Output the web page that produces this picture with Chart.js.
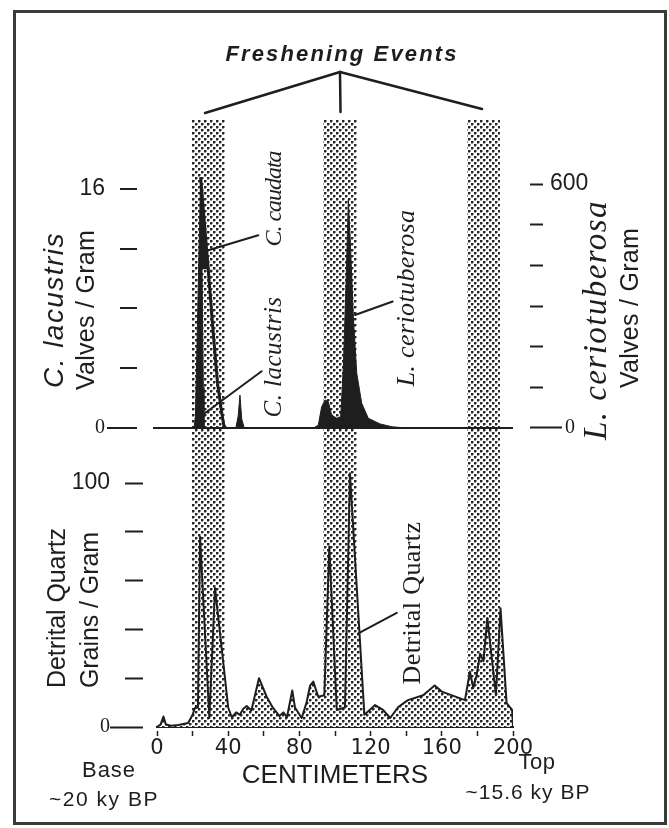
<!DOCTYPE html>
<html>
<head>
<meta charset="utf-8">
<title>Freshening Events</title>
<script src="https://cdn.jsdelivr.net/npm/chart.js@4.4.1/dist/chart.umd.min.js"></script>
<style>
  html, body { margin: 0; padding: 0; background: #fff; }
  #wrap { position: relative; width: 669px; height: 828px; }
</style>
</head>
<body>
<div id="wrap"><canvas id="coreChart" width="669" height="828"></canvas></div>
<script>
// Werte (Tiefe in cm)
const bandStart = [19.5, 93, 174];
const bandEnd = [38, 112.5, 192.5];

const caudataDepth = [20.8, 21.6, 24.5, 25.3, 26.0, 26.4, 44.3, 45.6, 46.6, 47.6, 49.0];
const caudataCount = [0, 0.8, 16.8, 10.6, 2.7, 0, 0, 0.8, 2.2, 0.6, 0];

const lacustrisDepth = [24.5, 28.8, 31.5, 34.0, 36.5, 37.5, 38.5];
const lacustrisCount = [16.8, 10.6, 6.5, 3.0, 0.9, 0.2, 0];

const cerioDepth = [88, 90.6, 92.5, 94.4, 96.2, 98.1, 101, 103.2, 104.7, 106.2, 107.5, 108.8, 110.3, 112.2, 115, 118.7, 125.3, 132, 140];
const cerioCount = [0, 7, 52, 69, 65, 32, 24, 28, 151, 356, 562, 438, 274, 135, 61, 24, 10, 3, 0];

const quartzDepth = [0, 2, 3.6, 5, 8, 12, 17.5, 20, 21.3, 23,
    24.2, 29.4, 32.6, 40, 42, 44.5, 46.5, 48.5, 50.4, 53,
    57.3, 61.6, 65, 68.8, 71, 73, 76, 77.5, 81.3, 84,
    86, 87.8, 90.6, 94, 96.8, 101, 105.6, 108.4, 116.5, 119.5,
    122.5, 127, 131, 135.5, 141, 149.5, 156, 160, 173, 175.8,
    177.7, 179.5, 181.5, 183.4, 185.6, 190.4, 193, 196.4, 199.5, 200];
const quartzCount = [0, 1, 4.3, 1, 0.5, 0.8, 1.6, 5, 7.8, 8,
    78, 3.7, 57, 8, 4, 6, 5, 7.5, 8.6, 6.8,
    20, 12.4, 8, 4.5, 6, 4, 15, 8, 3.7, 10,
    17, 18.6, 12.4, 13, 74, 7, 8, 104, 5, 7,
    9, 7, 3.7, 8.2, 11, 13, 17, 14.5, 11, 22.7,
    16, 21, 30, 27, 44.7, 13, 48.7, 9.8, 7, 0];

const leftTicks = [0, 4, 8, 12, 16];
const leftLabels = [0, 16];
const rightTicks = [0, 100, 200, 300, 400, 500, 600];
const rightLabels = [0, 600];
const quartzTicks = [0, 20, 40, 60, 80, 100];
const quartzLabels = [0, 100];
const depthTicks = [0, 20, 40, 60, 80, 100, 120, 140, 160, 180, 200];
const depthLabels = [0, 40, 80, 120, 160, 200];

const ink = '#1e1e1e';

// Punktraster wie im Original
const stipple = (function () {
    const c = document.createElement('canvas');
    c.width = 6; c.height = 6;
    const g = c.getContext('2d');
    g.fillStyle = '#ffffff';
    g.fillRect(0, 0, 6, 6);
    g.fillStyle = '#262626';
    g.fillRect(0, 0, 2, 2);
    g.fillRect(3, 3, 2, 2);
    g.fillStyle = '#9a9a9a';
    g.fillRect(2, 0, 1, 2);
    g.fillRect(0, 2, 2, 1);
    g.fillRect(5, 3, 1, 2);
    g.fillRect(3, 5, 2, 1);
    return g.createPattern(c, 'repeat');
})();

const toPoints = (xs, ys) => xs.map((x, i) => ({ x: x, y: ys[i] }));
const isZero = c => c.tick && c.tick.value === 0;
const tickFont = c => isZero(c)
    ? { family: 'Liberation Serif', size: 20 }
    : { family: 'Liberation Sans', size: 23 };

function spacedText(ctx, text, x, y, font, length, angle) {
    ctx.save();
    ctx.font = font;
    const natural = ctx.measureText(text).width;
    ctx.letterSpacing = ((length - natural) / text.length).toFixed(2) + 'px';
    ctx.translate(x, y);
    ctx.rotate(angle || 0);
    ctx.textAlign = 'center';
    ctx.textBaseline = 'middle';
    ctx.fillStyle = ink;
    ctx.fillText(text, 0, 0);
    ctx.restore();
}

function segment(ctx, x1, y1, x2, y2, w) {
    ctx.save();
    ctx.strokeStyle = ink;
    ctx.lineWidth = w || 2;
    ctx.lineCap = 'round';
    ctx.beginPath();
    ctx.moveTo(x1, y1);
    ctx.lineTo(x2, y2);
    ctx.stroke();
    ctx.restore();
}

const figurePlugin = {
    id: 'figure',
    beforeDraw(chart) {
        // schattierte Bereiche der Aussüssungsereignisse
        const ctx = chart.ctx;
        const x = chart.scales.x;
        const bottom = chart.chartArea.bottom;
        ctx.save();
        ctx.fillStyle = stipple;
        bandStart.forEach((s, i) => {
            const l = Math.round(x.getPixelForValue(s));
            const r = Math.round(x.getPixelForValue(bandEnd[i]));
            ctx.fillRect(l, 120, r - l, bottom - 120);
        });
        ctx.restore();
    },
    afterDraw(chart) {
        const ctx = chart.ctx;
        const { x, yL, yR, yQ } = chart.scales;
        const up = -Math.PI / 2;

        // Klammer "Freshening Events"
        spacedText(ctx, 'Freshening Events', 342, 55, 'bold italic 22px "Liberation Sans"', 233, 0);
        segment(ctx, 205, 113, 340, 72, 2.5);
        segment(ctx, 340, 72, 482, 109, 2.5);
        segment(ctx, 340, 72, 340.5, 112, 2.5);

        // Achsentitel links
        spacedText(ctx, 'C. lacustris', 55, 310, 'italic 28px "Liberation Sans"', 156, up);
        spacedText(ctx, 'Valves / Gram', 87, 310, '25px "Liberation Sans"', 160, up);
        spacedText(ctx, 'Detrital Quartz', 58, 608, '25px "Liberation Sans"', 160, up);
        spacedText(ctx, 'Grains / Gram', 91, 610, '25px "Liberation Sans"', 156, up);

        // Achsentitel rechts
        spacedText(ctx, 'L. ceriotuberosa', 597, 320, 'italic 33px "Liberation Serif"', 240, up);
        spacedText(ctx, 'Valves / Gram', 631, 308, '25px "Liberation Sans"', 160, up);

        // Beschriftungen im Diagramm
        spacedText(ctx, 'C. caudata', 275, 199, 'italic 24px "Liberation Serif"', 95, up);
        spacedText(ctx, 'C. lacustris', 274, 357, 'italic 25px "Liberation Serif"', 121, up);
        spacedText(ctx, 'L. ceriotuberosa', 407, 298, 'italic 26px "Liberation Serif"', 177, up);
        spacedText(ctx, 'Detrital Quartz', 413, 603, '26px "Liberation Serif"', 163, up);

        // Zeigerlinien
        segment(ctx, x.getPixelForValue(28.8), yL.getPixelForValue(11.9), x.getPixelForValue(56.9), yL.getPixelForValue(12.9), 2);
        segment(ctx, x.getPixelForValue(27), yL.getPixelForValue(1.0), x.getPixelForValue(58.8), yL.getPixelForValue(3.8), 2);
        segment(ctx, x.getPixelForValue(111.2), yR.getPixelForValue(278), x.getPixelForValue(132.4), yR.getPixelForValue(311), 2);
        segment(ctx, x.getPixelForValue(113.1), yQ.getPixelForValue(38.4), x.getPixelForValue(134.7), yQ.getPixelForValue(46.8), 2);

        // Basis / Top
        spacedText(ctx, 'Base', 109, 771, '22px "Liberation Sans"', 54, 0);
        spacedText(ctx, '~20 ky BP', 104, 800, '21px "Liberation Sans"', 110, 0);
        spacedText(ctx, 'Top', 537, 763, '22px "Liberation Sans"', 37, 0);
        spacedText(ctx, '~15.6 ky BP', 528, 793, '21px "Liberation Sans"', 125, 0);

        // Rahmen
        ctx.save();
        ctx.strokeStyle = '#3a3a3a';
        ctx.lineWidth = 3;
        ctx.strokeRect(14.5, 11.5, 651, 812);
        ctx.restore();
    }
};

document.addEventListener("DOMContentLoaded", function () {
    const ctx = document.getElementById('coreChart').getContext('2d');

    new Chart(ctx, {
        type: 'line',
        data: {
            datasets: [
                {
                    label: 'C. caudata',
                    data: toPoints(caudataDepth, caudataCount),
                    yAxisID: 'yL',
                    borderColor: ink,
                    borderWidth: 1,
                    backgroundColor: ink,
                    fill: 'origin'
                },
                {
                    label: 'C. lacustris',
                    data: toPoints(lacustrisDepth, lacustrisCount),
                    yAxisID: 'yL',
                    borderColor: ink,
                    borderWidth: 3,
                    fill: { target: { value: lacustrisCount[1] }, above: ink, below: 'rgba(0,0,0,0)' }
                },
                {
                    label: 'L. ceriotuberosa',
                    data: toPoints(cerioDepth, cerioCount),
                    yAxisID: 'yR',
                    borderColor: ink,
                    borderWidth: 1,
                    backgroundColor: ink,
                    fill: 'origin'
                },
                {
                    label: 'Detrital Quartz',
                    data: toPoints(quartzDepth, quartzCount),
                    yAxisID: 'yQ',
                    borderColor: ink,
                    borderWidth: 2,
                    backgroundColor: stipple,
                    fill: 'origin'
                }
            ]
        },
        options: {
            responsive: false,
            animation: false,
            devicePixelRatio: 1,
            layout: { padding: 0 },
            elements: { point: { radius: 0 }, line: { tension: 0, borderJoinStyle: 'round' } },
            plugins: { legend: { display: false }, tooltip: { enabled: false } },
            scales: {
                x: {
                    type: 'linear', min: 0, max: 200,
                    afterBuildTicks: s => { s.ticks = depthTicks.map(v => ({ value: v })); },
                    afterFit: s => { s.height = 101; s.paddingLeft = 0; s.paddingRight = 0; },
                    border: { display: true, color: ink, width: 2 },
                    grid: { drawOnChartArea: false, tickLength: 9, tickColor: ink, tickWidth: 1.5, tickBorderDash: [6, 3], tickBorderDashOffset: 6 },
                    ticks: {
                        font: { family: 'DejaVu Sans', size: 21 }, color: ink, padding: 0,
                        maxRotation: 0, autoSkip: false,
                        callback: v => depthLabels.includes(v) ? String(v) : ''
                    },
                    title: {
                        display: true, text: 'CENTIMETERS', color: ink,
                        font: { family: 'Liberation Sans', size: 26 }, padding: { top: 0, bottom: 37 }
                    }
                },
                // linke Achsen: Reihenfolge umgekehrt, die zuletzt definierte liegt oben
                yQ: {
                    type: 'linear', position: 'left', stack: 'panels', stackWeight: 272,
                    min: 0, max: 111.5,
                    afterBuildTicks: s => { s.ticks = quartzTicks.map(v => ({ value: v })); },
                    afterFit: s => { s.width = 157; s.paddingTop = 0; s.paddingBottom = 0; },
                    border: { display: false },
                    grid: {
                        drawOnChartArea: false,
                        tickLength: 47, tickColor: ink, tickWidth: 2,
                        tickBorderDash: c => isZero(c) ? [33, 14] : [18, 29],
                        tickBorderDashOffset: c => isZero(c) ? 0 : 32
                    },
                    ticks: {
                        font: tickFont, color: ink, padding: 0, autoSkip: false,
                        callback: v => quartzLabels.includes(v) ? String(v) : ''
                    }
                },
                yL: {
                    type: 'linear', position: 'left', stack: 'panels', stackWeight: 455,
                    min: -1.81, max: 28.65,
                    afterBuildTicks: s => { s.ticks = leftTicks.map(v => ({ value: v })); },
                    afterFit: s => { s.width = 157; s.paddingTop = 0; s.paddingBottom = 0; },
                    border: { display: false },
                    grid: {
                        drawOnChartArea: true,
                        color: c => isZero(c) ? ink : 'rgba(0,0,0,0)',
                        lineWidth: 2,
                        tickLength: 50, tickColor: ink, tickWidth: 2,
                        tickBorderDash: c => isZero(c) ? [30, 16, 10] : [17, 33],
                        tickBorderDashOffset: c => isZero(c) ? 0 : 37
                    },
                    ticks: {
                        font: tickFont, color: ink, padding: 2, autoSkip: false,
                        callback: v => leftLabels.includes(v) ? String(v) : ''
                    }
                },
                yR: {
                    type: 'linear', position: 'right', stack: 'rpanels', stackWeight: 455,
                    min: -66.4, max: 1052.5,
                    afterBuildTicks: s => { s.ticks = rightTicks.map(v => ({ value: v })); },
                    afterFit: s => { s.width = 156; s.paddingTop = 0; s.paddingBottom = 0; },
                    border: { display: false },
                    grid: {
                        drawOnChartArea: false,
                        tickLength: 49, tickColor: ink, tickWidth: 2,
                        tickBorderDash: c => isZero(c) ? [32, 17] : [13, 36],
                        tickBorderDashOffset: 32
                    },
                    ticks: {
                        font: tickFont, color: ink, padding: -12, autoSkip: false,
                        callback: v => rightLabels.includes(v) ? (v === 0 ? '   0' : String(v)) : ''
                    }
                },
                yRb: {
                    type: 'linear', position: 'right', stack: 'rpanels', stackWeight: 272,
                    afterFit: s => { s.width = 156; s.paddingTop = 0; s.paddingBottom = 0; },
                    border: { display: false },
                    grid: { display: false },
                    ticks: { display: false }
                }
            }
        },
        plugins: [figurePlugin]
    });
});
</script>
</body>
</html>
